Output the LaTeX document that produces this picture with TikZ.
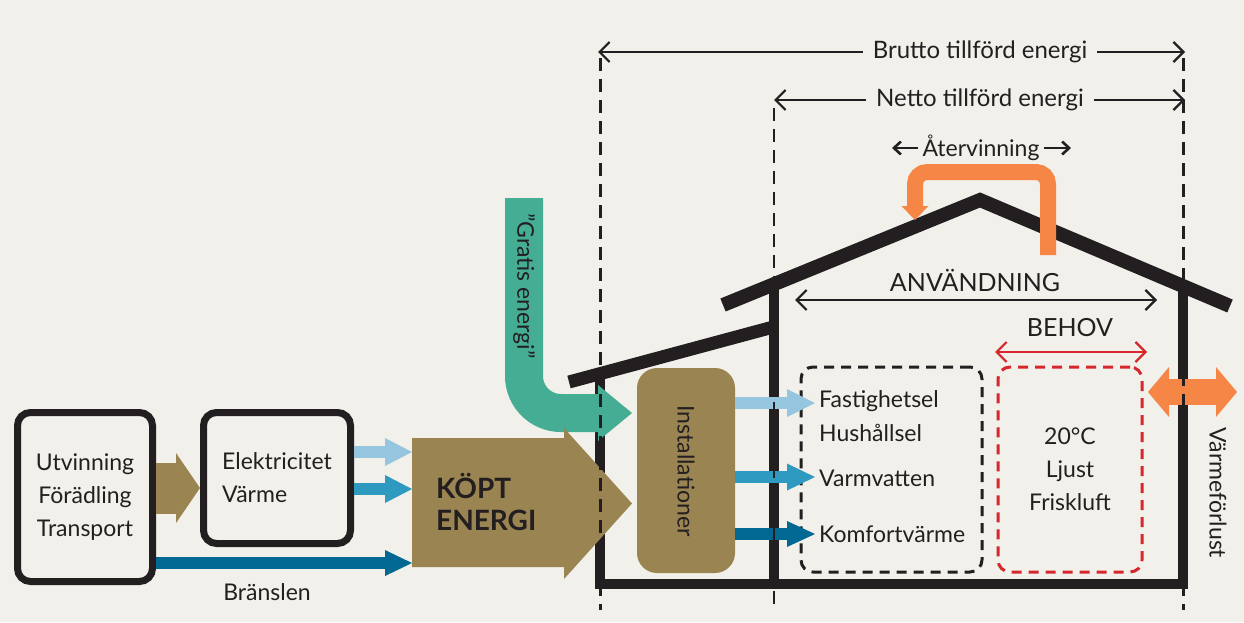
\documentclass[tikz,border=0pt]{standalone}
\usepackage{fontspec}
\setmainfont{Lato}
\usetikzlibrary{arrows.meta}
\definecolor{bgc}{RGB}{242,240,234}
\definecolor{ink}{RGB}{35,31,32}
\definecolor{kbrown}{RGB}{154,132,82}
\definecolor{lblue}{RGB}{150,198,223}
\definecolor{mblue}{RGB}{46,154,191}
\definecolor{dblue}{RGB}{0,104,146}
\definecolor{kgreen}{RGB}{70,173,149}
\definecolor{korange}{RGB}{245,134,70}
\definecolor{kred}{RGB}{215,39,44}
\tikzset{
  txt/.style={font=\fontsize{23}{33}\selectfont, text=ink, inner sep=0pt},
  blackbox/.style={draw=ink, line width=7pt, rounded corners=13pt, inner sep=0pt, font=\fontsize{23}{33}\selectfont, text=ink},
  flow/.style n args={4}{draw=#1, line width=#2, -{Triangle[length=#3,width=#4,line width=0pt]}},
  wall/.style={draw=ink, line width=10pt, line join=miter},
  roofline/.style={draw=ink, line width=14pt, line join=miter},
  vdash/.style={draw=ink, line width=#1, dash pattern=on 13pt off 8pt},
  dbox/.style={draw=#1, line width=3pt, dash pattern=on 10pt off 7pt, rounded corners=12pt, inner sep=0pt},
  dimline/.style={draw=#1, line width=2.2pt},
  dimtip/.tip={Straight Barb[length=10pt,width=20pt]},
  smalltip/.tip={Straight Barb[length=7pt,width=13pt]},
}
\begin{document}
\begin{tikzpicture}[x=1pt,y=-1pt]
\useasboundingbox (0,0) rectangle (1244,622);
\fill[bgc] (0,0) rectangle (1244,622);

% ---------- house ----------
\draw[roofline] (723,305) -- (980,200) -- (1230,306);
\draw[roofline, line width=13pt] (569,382) -- (777,326);
\draw[wall] (600,374) -- (600,584) -- (1183,584) -- (1183,286);
\draw[wall] (774,286) -- (774,584);

% ---------- recovery arrow ----------
\coordinate (r0) at (1048,255);
\coordinate (r1) at (915,220);
\draw[flow={korange}{16pt}{14pt}{27pt}, rounded corners=12pt] (r0) -- (1048,172) -- (915,172) -- (r1);

% ---------- left chain ----------
\node[blackbox, minimum width=135pt, minimum height=169pt, align=center] (box1) at (85,497) {Utvinning\\Förädling\\Transport};
\node[blackbox, minimum width=147pt, minimum height=131pt, align=left] (box2) at (277,478) {Elektricitet\\Värme};

\coordinate (b12) at (200,488);
\draw[flow={kbrown}{51pt}{24pt}{70pt}] (box1.east |- b12) -- (b12);

\coordinate (k1) at (412,452);
\coordinate (k2) at (412,489);
\coordinate (k3) at (412,563);
\draw[flow={lblue}{12pt}{27pt}{28pt}] (box2.east |- k1) -- (k1);
\draw[flow={mblue}{12pt}{27pt}{28pt}] (box2.east |- k2) -- (k2);
\draw[flow={dblue}{12pt}{27pt}{26pt}] (box1.east |- k3) -- (k3);
\node[txt] (bransle) at (267,592) {Bränslen};

% ---------- green free energy ----------
\coordinate (g0) at (524,198);
\coordinate (g1) at (632,413);
\draw[flow={kgreen}{38pt}{34pt}{56pt}, rounded corners=37pt] (g0) |- (g1);
\node[txt, rotate=-90] (gratis) at (524,286) {"Gratis energi"};

% ---------- bought energy ----------
\fill[kbrown] (412,438) -- (564,438) -- (564,428) -- (632,503.5) -- (564,579) -- (564,567) -- (412,567) -- cycle;
\node[txt, anchor=west, align=left, font=\fontsize{28}{32}\selectfont\bfseries] (kopt) at (436,502) {KÖPT\\ENERGI};

% ---------- installations ----------
\node[fill=kbrown, rounded corners=20pt, minimum width=98pt, minimum height=205pt, inner sep=0pt] (inst) at (686,470.5) {};
\node[txt, rotate=-90] (instlabel) at (686,471) {Installationer};

% ---------- usage boxes ----------
\node[dbox=ink, minimum width=181pt, minimum height=205pt] (use) at (891.5,469.5) {};
\node[dbox=kred, minimum width=144pt, minimum height=205pt, txt, align=center] (need) at (1070,469.5) {20°C\\Ljust\\Friskluft};

\node[txt, anchor=west, align=left, font=\fontsize{23}{34}\selectfont] (fast) at (819,416) {Fastighetsel\\Hushållsel};
\node[txt, anchor=west] (varm) at (819,478) {Varmvatten};
\node[txt, anchor=west] (komf) at (819,534) {Komfortvärme};

\coordinate (a1) at (815,403);
\coordinate (a2) at (815,477);
\coordinate (a3) at (815,534);
\draw[flow={lblue}{12pt}{28pt}{28pt}] (inst.east |- a1) -- (a1);
\draw[flow={mblue}{12pt}{28pt}{27pt}] (inst.east |- a2) -- (a2);
\draw[flow={dblue}{12pt}{28pt}{26pt}] (inst.east |- a3) -- (a3);

% ---------- heat loss ----------
\coordinate (h0) at (1148,392);
\coordinate (h1) at (1237,392);
\draw[draw=korange, line width=26pt, {Triangle[length=21pt,width=50pt,line width=0pt]}-{Triangle[length=21pt,width=50pt,line width=0pt]}] (h0) -- (h1);
\node[txt, rotate=-90] (loss) at (1218,493) {Värmeförlust};

% ---------- labels with dimension arrows ----------
\node[txt, font=\fontsize{25}{30}\selectfont] (anv) at (975,280) {ANVÄNDNING};
\coordinate (u0) at (795,300);
\coordinate (u1) at (1157,300);
\draw[dimline=ink, dimtip-dimtip] (u0) -- (u1);

\node[txt, font=\fontsize{25}{30}\selectfont] (beh) at (1070,328) {BEHOV};
\coordinate (n0) at (995,352);
\coordinate (n1) at (1147,352);
\draw[dimline=kred, dimtip-dimtip] (n0) -- (n1);

\node[txt, inner xsep=10pt, font=\fontsize{24}{30}\selectfont] (brutto) at (980,52) {Brutto tillförd energi};
\coordinate (bl) at (598,52);
\coordinate (br) at (1185,52);
\draw[dimline=ink, dimtip-] (bl) -- (brutto);
\draw[dimline=ink, -dimtip] (brutto) -- (br);

\node[txt, inner xsep=10pt, font=\fontsize{24}{30}\selectfont] (netto) at (980,100) {Netto tillförd energi};
\coordinate (nl) at (774,100);
\coordinate (nr) at (1185,100);
\draw[dimline=ink, dimtip-] (nl) -- (netto);
\draw[dimline=ink, -dimtip] (netto) -- (nr);

\node[txt, inner xsep=4pt] (ater) at (981,148) {Återvinning};
\coordinate (al) at (892,148);
\coordinate (ar) at (1071,148);
\draw[line width=2.6pt, draw=ink, smalltip-] (al) -- (ater);
\draw[line width=2.6pt, draw=ink, -smalltip] (ater) -- (ar);

% ---------- dashed boundaries ----------
\draw[vdash=3pt] (600,58) -- (600,610);
\draw[vdash=2pt] (774,108) -- (774,610);
\draw[vdash=3pt] (1183,58) -- (1183,610);
\end{tikzpicture}
\end{document}
